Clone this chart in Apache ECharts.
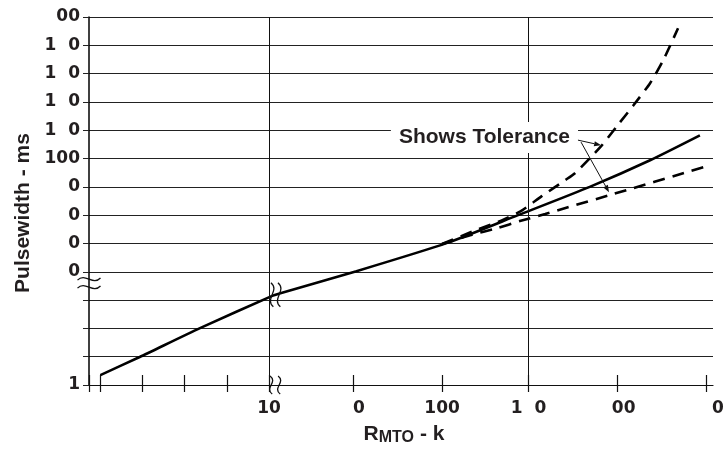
<!DOCTYPE html>
<html><head><meta charset="utf-8">
<script src="https://cdn.jsdelivr.net/npm/echarts@6/dist/echarts.min.js"></script>
<style>html,body{margin:0;padding:0;background:#fff}#c{width:726px;height:457px}</style>
</head><body><div id="c"></div>
<script>
// ---- data (x in axis units, y in gridline units) ----
const xMin = -2.06, xMax = 5.08;
const xTickValues = [-2.06, -1.93, -1.45, -0.97, -0.48, 0, 0.96, 1.98, 2.97, 3.99, 5.0];
const xLabelValues = [0, 0.96, 1.98, 2.97, 3.99, 5.0];
const xLabelTexts = ['10', '\u20070', '100', '1\u20070', '\u200700', '\u2007\u20070'];
const xGridValues = [0, 2.97];
const yTickLabels = ['1', '', '', '', '0', '0', '0', '0', '100', '1\u20070', '1\u20070', '1\u20070', '1\u20070', '00'];

const solidX = [-1.93, -1.48, -0.79, 0.03, 0.13, 1.0, 2.04, 2.85, 3.67, 4.36, 4.93];
const solidY = [0.35, 0.99, 2.01, 3.14, 3.24, 4.02, 5.02, 6.0, 7.0, 7.94, 8.82];
const upperX = [1.98, 2.35, 2.67, 2.9, 3.12, 3.39, 3.5, 3.79, 3.99, 4.17, 4.36, 4.51, 4.68];
const upperY = [4.98, 5.45, 5.82, 6.18, 6.67, 7.24, 7.48, 8.4, 9.18, 9.88, 10.66, 11.47, 12.6];
const lowerX = [1.98, 2.3, 2.61, 2.87, 3.16, 3.42, 3.9, 4.97];
const lowerY = [4.98, 5.29, 5.54, 5.79, 6.04, 6.28, 6.71, 7.69];

const noteText = 'Shows Tolerance';
const noteAt = [2.465, 8.74];
const arrowFrom = [[3.535, 8.65], [3.57, 8.58]];
const arrowTo = [[3.80, 8.47], [3.89, 6.81]];
const yBreakAt = 3.6;
const xBreakAt = 0.07;
const curveBreakAt = [0.07, 3.19];

const yTitle = 'Pulsewidth - ms';
// ---------------------------------------------------
const zip = (a, b) => a.map((v, i) => [v, b[i]]);
const TXT = '#231f20';
const chart = echarts.init(document.getElementById('c'), null, {renderer: 'canvas'});

const option = {
  animation: false,
  backgroundColor: '#fff',
  grid: {left: 89, right: 13, top: 17, bottom: 72, containLabel: false, outerBoundsMode: 'none'},
  xAxis: [{
    type: 'value', min: xMin, max: xMax, position: 'bottom',
    axisLine: {show: true, onZero: false, lineStyle: {color: '#111', width: 1.2}},
    axisTick: {show: true, inside: false, length: 7, customValues: xTickValues, lineStyle: {color: '#111', width: 1.2}},
    axisLabel: {
      show: true, customValues: xLabelValues, margin: 15,
      fontFamily: 'DejaVu Sans', fontWeight: 'bold', fontSize: 17, color: TXT,
      formatter: v => { const i = xLabelValues.findIndex(t => Math.abs(t - v) < 1e-6); return i >= 0 ? xLabelTexts[i] : ''; }
    },
    splitLine: {show: false},
    name: '{r|R}{s|MTO}{r| - k}', nameLocation: 'middle', nameGap: 37,
    nameTextStyle: {
      padding: [0, 0, 0, 6],
      rich: {
        r: {fontFamily: 'Liberation Sans', fontWeight: 'bold', fontSize: 21, lineHeight: 24, color: TXT},
        s: {fontFamily: 'Liberation Sans', fontWeight: 'bold', fontSize: 16, lineHeight: 12, verticalAlign: 'bottom', color: TXT}
      }
    }
  }, {
    type: 'value', min: xMin, max: xMax, position: 'bottom', offset: 0,
    axisLine: {show: false},
    axisTick: {show: true, inside: true, length: 10, customValues: xTickValues, lineStyle: {color: '#111', width: 1.2}},
    axisLabel: {show: false},
    splitLine: {show: false}
  }],
  yAxis: {
    type: 'value', min: 0, max: 13, interval: 1,
    axisLine: {show: true, onZero: false, lineStyle: {color: '#000', width: 1.5}},
    axisTick: {show: true, inside: false, length: 6, lineStyle: {color: '#222', width: 1}},
    axisLabel: {
      margin: 9, fontFamily: 'DejaVu Sans', fontWeight: 'bold', fontSize: 17, color: TXT,
      formatter: v => yTickLabels[Math.round(v)] || ''
    },
    splitLine: {show: true, lineStyle: {color: '#222', width: 1}},
    name: yTitle, nameLocation: 'middle', nameGap: 52, nameRotate: 90,
    nameTextStyle: {fontFamily: 'Liberation Sans', fontWeight: 'bold', fontSize: 21, color: TXT, padding: [0, 24, 0, 0]}
  },
  series: [{
    type: 'line', name: 'nominal', data: zip(solidX, solidY), showSymbol: false,
    smooth: 0.2,
    lineStyle: {color: '#000', width: 2.6}, z: 3,
    markLine: {
      silent: true, symbol: ['none', 'none'], label: {show: false},
      lineStyle: {color: '#111', width: 1, type: 'solid'},
      data: xGridValues.map(v => ({xAxis: v}))
    }
  }, {
    type: 'line', name: 'max', data: zip(upperX, upperY), showSymbol: false,
    smooth: 0.2,
    lineStyle: {color: '#000', width: 2.6, type: [12, 8]}, z: 3
  }, {
    type: 'line', name: 'min', data: zip(lowerX, lowerY), showSymbol: false,
    smooth: 0.2,
    lineStyle: {color: '#000', width: 2.6, type: [12, 8]}, z: 3
  }]
};
chart.setOption(option);

// ---- annotations placed through the chart's own scales ----
const px = p => chart.convertToPixel({xAxisIndex: 0, yAxisIndex: 0}, p);
const g = [];
const stroke = {stroke: '#111', lineWidth: 1.3, fill: null};
function hTilde(cx, cy, w, a) {
  return {type: 'bezierCurve', z: 100, silent: true,
    shape: {x1: cx - w / 2, y1: cy + a * 0.3, cpx1: cx - w / 6, cpy1: cy - 2 * a, cpx2: cx + w / 6, cpy2: cy + 2 * a, x2: cx + w / 2, y2: cy - a * 0.3},
    style: stroke};
}
function vTilde(cx, cy, h, a) {
  return {type: 'bezierCurve', z: 100, silent: true,
    shape: {x1: cx - a * 0.3, y1: cy - h / 2, cpx1: cx + 2 * a, cpy1: cy - h / 6, cpx2: cx - 2 * a, cpy2: cy + h / 6, x2: cx + a * 0.3, y2: cy + h / 2},
    style: stroke};
}
// y-axis break
const yb = px([xMin, yBreakAt]);
g.push(hTilde(yb[0], yb[1] - 4, 23, 3.5), hTilde(yb[0], yb[1] + 4, 23, 3.5));
// x-axis break
const xb = px([xBreakAt, 0]);
g.push(vTilde(xb[0] - 4, xb[1], 18, 3.5), vTilde(xb[0] + 4, xb[1], 18, 3.5));
// curve break
const cb = px(curveBreakAt);
g.push(vTilde(cb[0] - 3, cb[1], 24, 4), vTilde(cb[0] + 4, cb[1], 24, 4));
// note text
const na = px(noteAt);
g.push({type: 'text', z: 100, silent: true, x: na[0], y: na[1],
  style: {text: noteText, fontFamily: 'Liberation Sans', fontWeight: 'bold', fontSize: 21, fill: TXT,
    align: 'center', verticalAlign: 'middle', backgroundColor: '#fff', padding: [5, 8, 5, 8]}});
// arrows
arrowFrom.forEach((f, i) => {
  const a = px(f), b = px(arrowTo[i]);
  const dx = b[0] - a[0], dy = b[1] - a[1], L = Math.hypot(dx, dy);
  const ux = dx / L, uy = dy / L, hl = 7, hw = 2.6;
  const bx = b[0] - ux * hl, by = b[1] - uy * hl;
  g.push({type: 'line', z: 101, silent: true, shape: {x1: a[0], y1: a[1], x2: bx, y2: by}, style: {stroke: '#111', lineWidth: 1}});
  g.push({type: 'polygon', z: 101, silent: true,
    shape: {points: [[b[0], b[1]], [bx - uy * hw, by + ux * hw], [bx + uy * hw, by - ux * hw]]},
    style: {fill: '#111'}});
});
chart.setOption({graphic: g});
</script>
</body></html>
